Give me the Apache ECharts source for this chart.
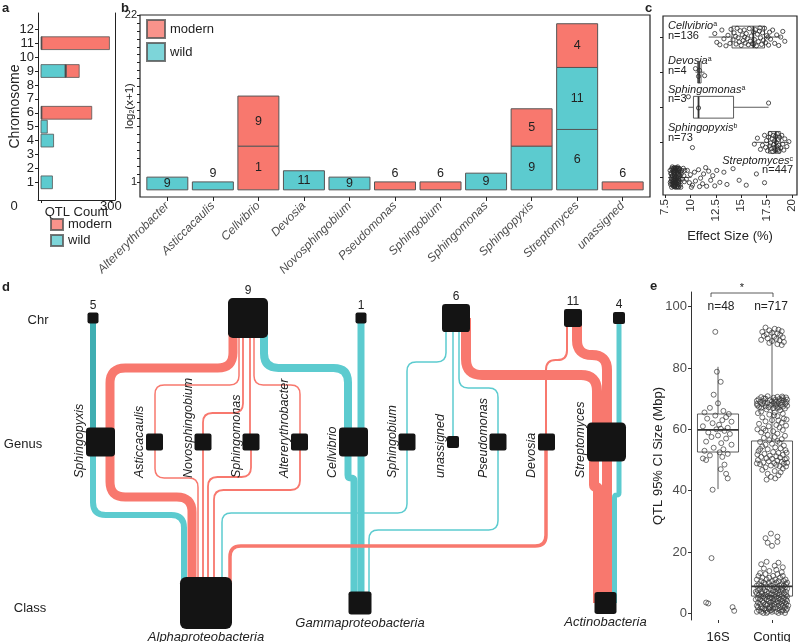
<!DOCTYPE html>
<html><head><meta charset="utf-8">
<script src="https://cdn.jsdelivr.net/npm/echarts@6.0.0/dist/echarts.min.js"></script>
<style>html,body{margin:0;padding:0;background:#fff;}#chart{width:799px;height:642px;}</style>
</head><body><div id="chart"></div>
<script>
// ================= DATA =================
// panel a : QTL count per chromosome
const aChromosomes = [1, 4, 5, 6, 9, 11];
const aWild   = [49, 54, 27, 0, 104, 0];
const aOther  = [0, 0, 0, 4, 5, 4];
const aModern = [0, 0, 0, 214, 55, 290];
const aYTicks = [1,2,3,4,5,6,7,8,9,10,11,12];
const aXTicks = [0, 300];

// panel b : stacked log2(x+1) per genus, segments bottom->top [chromosome, type, height]
const bGenera = ['Altererythrobacter','Asticcacaulis','Cellvibrio','Devosia','Novosphingobium','Pseudomonas','Sphingobium','Sphingomonas','Sphingopyxis','Streptomyces','unassigned'];
const bSegments = [
  [[9,'wild',1.6]],
  [[9,'wild',1.0]],
  [[1,'modern',5.5],[9,'modern',6.3]],
  [[11,'wild',2.4]],
  [[9,'wild',1.6]],
  [[6,'modern',1.0]],
  [[6,'modern',1.0]],
  [[9,'wild',2.1]],
  [[9,'wild',5.5],[5,'modern',4.7]],
  [[6,'wild',7.6],[11,'wild',7.8],[4,'modern',5.5]],
  [[6,'modern',1.0]]
];
const bYTicks = [1,2,3,4,5,6,7,8,9,10,11,12,13,14,15,16,17,18,19,20,21,22];
const bYLabels = [1, 22];

// panel c : effect size per genus
const cGenera = ['Cellvibrio','Devosia','Sphingomonas','Sphingopyxis','Streptomyces'];
const cLetters = ['a','a','a','b','c'];
const cN = [136, 4, 3, 73, 447];
const cBoxes = [[11.8,14.1,16.2,17.3,18.9],[10.5,10.72,10.85,11.05,11.4],[9.8,10.3,10.8,14.25,17.7],[16.3,17.7,18.4,18.85,19.7],[7.8,8.3,8.6,9.0,10.1]];
const cXTicks = [7.5, 10, 12.5, 15, 17.5, 20];
const cPoints = [
 [[12.4,-0.1],[12.6,0.15],[12.9,0.22],[13.1,-0.2],[13.3,0.05],[13.5,0.25],[13.7,-0.05],[13.9,0.18],[14.0,-0.22],[14.2,0.08],[14.3,-0.12],[14.5,0.2],[14.6,-0.25],[14.7,0.02],[14.8,0.14],[14.9,-0.18],[15.0,0.24],[15.1,-0.06],[15.2,0.1],[15.3,-0.2],[15.4,0.17],[15.5,-0.1],[15.6,0.04],[15.7,0.22],[15.8,-0.24],[15.9,0.12],[16.0,-0.03],[16.1,0.19],[16.2,-0.15],[16.3,0.07],[16.4,-0.21],[16.5,0.25],[16.6,-0.08],[16.7,0.13],[16.8,-0.17],[16.9,0.02],[17.0,0.21],[17.1,-0.12],[17.2,0.09],[17.3,-0.25],[17.4,0.16],[17.5,-0.04],[17.7,0.23],[17.8,-0.14],[17.9,0.06],[18.1,-0.2],[18.3,0.18],[18.5,-0.06],[18.7,0.24],[18.9,0.0],[19.1,-0.16],[19.3,0.12],[15.35,0.0],[16.25,0.2],[16.85,-0.26],[17.65,0.0],[14.45,-0.02]],
 [[10.5,-0.1],[10.8,0.12],[10.9,-0.05],[11.4,0.1]],
 [[9.8,-0.3],[10.8,0.02],[17.7,-0.12]],
 [[16.3,0.05],[16.6,-0.12],[16.9,0.2],[17.1,0.08],[17.3,-0.2],[17.4,0.14],[17.5,-0.05],[17.6,0.24],[17.7,-0.15],[17.8,0.1],[17.85,-0.25],[17.9,0.02],[18.0,0.18],[18.05,-0.1],[18.1,0.26],[18.15,-0.2],[18.2,0.06],[18.25,0.15],[18.3,-0.05],[18.35,0.22],[18.4,-0.18],[18.45,0.0],[18.5,0.12],[18.55,-0.24],[18.6,0.2],[18.65,-0.08],[18.7,0.08],[18.75,0.25],[18.8,-0.14],[18.9,0.16],[19.0,-0.2],[19.1,0.05],[19.2,0.22],[19.3,-0.1],[19.5,0.12],[19.7,-0.02],[10.2,0.15]],
 [[8.0,-0.2],[8.1,0.1],[8.2,-0.05],[8.3,0.25],[8.4,-0.28],[8.5,0.0],[8.6,0.18],[8.7,-0.15],[8.8,0.08],[8.9,-0.22],[9.0,0.22],[9.1,-0.1],[9.2,0.05],[9.3,-0.26],[8.05,0.2],[8.15,-0.25],[8.25,0.12],[8.35,-0.12],[8.45,0.27],[8.55,-0.18],[8.65,0.05],[8.75,-0.3],[8.85,0.15],[8.95,-0.05],[9.05,0.28],[9.15,-0.2],[8.1,-0.1],[8.2,0.2],[8.3,-0.18],[8.4,0.08],[8.5,-0.25],[8.6,-0.02],[8.7,0.25],[8.8,-0.1],[8.9,0.1],[9.0,-0.15],[8.12,0.02],[8.22,-0.3],[8.32,0.06],[8.42,-0.08],[8.52,0.16],[8.62,-0.28],[8.72,0.1],[8.82,0.28],[8.92,-0.25],[8.3,0.15],[8.5,0.22],[8.7,-0.22],[8.4,-0.15],[8.6,0.28],[8.25,-0.05],[8.55,0.08],[8.15,0.28],[8.45,-0.2],[8.65,-0.12],[8.35,0.2],[8.75,0.0],[9.4,0.12],[9.35,-0.05],[9.45,-0.2],
  [8.08,-0.12],[8.18,0.06],[8.28,-0.22],[8.38,0.24],[8.48,-0.04],[8.58,0.12],[8.68,-0.26],[8.78,0.2],[8.88,-0.08],[8.98,0.04],[8.02,0.14],[8.44,0.02],[8.64,0.15],[8.34,-0.26],[8.84,-0.18],
  [9.6,0.05],[9.7,-0.2],[9.9,0.15],[10.0,-0.08],[10.2,0.22],[10.4,-0.15],[10.5,0.1],[10.8,-0.22],[11.0,0.02],[11.2,0.18],[11.3,-0.1],[11.6,0.25],[11.8,-0.18],[12.0,0.08],[12.2,-0.05],[12.4,0.24],[12.6,-0.2],[12.9,0.14],[13.3,-0.15],[13.6,0.2],[14.2,-0.25],[14.8,0.08],[15.5,0.22],[16.5,-0.1],[17.3,0.15],[10.1,0.28],[10.9,0.26],[11.5,-0.28]]
];

// panel d : alluvial nodes and flows
const dChr = ['5','9','1','6','11','4'];
const dGenus = ['Sphingopyxis','Asticcacaulis','Novosphingobium','Sphingomonas','Altererythrobacter','Cellvibrio','Sphingobium','unassigned','Pseudomonas','Devosia','Streptomyces'];
const dClass = ['Alphaproteobacteria','Gammaproteobacteria','Actinobacteria'];
// [from, to, type, weight]
const dFlows = [
 ['5','Sphingopyxis','wild',6], ['9','Sphingopyxis','modern',9], ['9','Asticcacaulis','modern',1.5], ['9','Novosphingobium','modern',1.8],
 ['9','Sphingomonas','modern',1.8], ['9','Altererythrobacter','modern',1.5], ['9','Cellvibrio','wild',8], ['1','Cellvibrio','wild',7],
 ['6','Sphingobium','wild',1.5], ['6','unassigned','wild',1.5], ['6','Pseudomonas','wild',1.5], ['6','Streptomyces','modern',10],
 ['11','Devosia','modern',2], ['11','Streptomyces','modern',10], ['4','Streptomyces','wild',5],
 ['Sphingopyxis','Alphaproteobacteria','wild',6], ['Sphingopyxis','Alphaproteobacteria','modern',9], ['Asticcacaulis','Alphaproteobacteria','modern',1.5],
 ['Novosphingobium','Alphaproteobacteria','modern',1.8], ['Sphingomonas','Alphaproteobacteria','modern',1.8], ['Altererythrobacter','Alphaproteobacteria','modern',1.8],
 ['Sphingobium','Alphaproteobacteria','wild',1.5], ['Cellvibrio','Gammaproteobacteria','wild',7], ['Cellvibrio','Gammaproteobacteria','wild',7],
 ['Pseudomonas','Gammaproteobacteria','wild',1.5], ['Devosia','Alphaproteobacteria','modern',3.5],
 ['Streptomyces','Actinobacteria','modern',10], ['Streptomyces','Actinobacteria','modern',10], ['Streptomyces','Actinobacteria','wild',5]
];

// panel e : CI size
const eGroups = ['16S','Contig'];
const eN = [48, 717];
const eBoxes = [[40.5,52.6,59.8,65.0,80.4],[0.1,5.6,8.8,56.2,92.2]];
const eYTicks = [0,20,40,60,80,100];
const e16S = [[91.8,-0.05],[78.8,-0.02],[75.5,0.05],[71.3,-0.08],[68.5,0.0],[67.0,-0.15],[66.0,0.1],[65.5,-0.25],[65.0,0.2],[64.5,-0.05],[64.0,0.15],[63.5,-0.2],[63.0,0.08],[62.5,0.25],[62.0,-0.1],[61.5,0.02],[61.0,-0.28],[60.5,0.18],[60.0,-0.03],[59.5,0.12],[59.0,-0.18],[58.5,0.22],[58.0,0.0],[57.5,-0.12],[57.0,0.15],[56.0,-0.22],[55.5,0.06],[55.0,0.25],[54.0,-0.08],[53.5,0.1],[53.0,-0.25],[52.5,0.03],[52.0,0.18],[51.5,-0.15],[51.0,0.08],[50.5,-0.28],[50.0,-0.22],[48.5,0.12],[47.0,0.05],[45.5,0.15],[44.0,0.18],[40.3,-0.1],[18.0,-0.12],[3.5,-0.22],[3.2,-0.18],[2.0,0.27],[0.8,0.3],[60.2,0.05]];
const eContigHigh = [[93.2,-.12],[92.8,.05],[92.5,.12],[92.3,-.05],[92.0,.18],[91.8,-.18],[91.5,.0],[91.3,.1],[91.0,-.1],[90.8,.15],[90.5,-.15],[90.2,.04],[90.0,.2],[89.7,-.08],[89.5,.08],[89.2,-.2],[89.0,.14],[88.8,.0],[88.5,.22],[88.2,-.05],[87.8,.1],[87.5,.18],
 [70.8,-.08],[70.6,.1],[70.5,-.2],[70.3,.03],[70.2,.2],[70.0,-.12],[69.9,.14],[69.8,-.25],[69.6,.06],[69.5,-.04],[69.4,.22],[69.2,-.16],[69.1,.0],[69.0,.12],[68.9,-.22],[68.7,.18],[68.6,-.08],[68.5,.04],[68.4,.25],[68.2,-.18],[68.1,.09],[68.0,-.02],[67.9,.16],[67.8,-.27],[67.6,.07],[67.5,-.12],[67.4,.2],[67.2,-.06],[67.1,.13],[67.0,-.2],[66.9,.02],[66.8,.24],[70.4,.26],[69.7,.28],[68.8,.27],[68.3,-.28],[67.7,.28],[69.3,-.28],[70.1,-.15],[68.95,.07],[67.3,-.24],[69.55,.17],[68.45,-.13],[70.7,.19],[67.05,.1],
 [66.5,-.1],[66.2,.15],[65.8,-.2],[65.5,.05],[65.1,.2],[64.8,-.05],[64.3,.1],[63.9,-.18],[63.5,.22],[63.0,.0],[62.6,-.12],[62.2,.18],[61.8,-.24],[61.4,.08],[61.0,-.06],[60.6,.14],[60.2,-.16],[59.8,.2],[59.4,.02],[59.0,-.2],[58.6,.1],[58.2,-.08],[57.9,.24],[65.3,-.26],[63.2,.27],[61.2,.26],[60.0,-.27],[64.6,.04],[62.9,.12],[59.6,-.12],
 [57.5,.05],[57.2,-.15],[56.8,.18],[56.5,-.05],[56.2,.1],[55.9,-.22],[55.6,.14],[55.3,.0],[55.0,-.12],[54.7,.22],[54.4,-.18],[54.1,.06],[53.8,.16],[53.5,-.08],[53.2,.25],[52.9,-.25],[52.6,.02],[52.3,.12],[52.0,-.14],[51.7,.2],[51.4,-.04],[51.2,.08],[51.0,-.2],[50.8,.15],[50.6,-.1],[50.4,.0],[50.2,.24],[50.0,-.26],[49.8,.1],[49.6,-.06],[49.4,.18],[49.2,-.16],[49.0,.04],[48.8,.22],[48.6,-.22],[48.4,.08],[48.2,-.02],[48.0,.14],[47.6,-.12],[47.2,.2],[46.8,-.18],[46.4,.05],[46.0,.16],[45.5,-.08],[45.0,.12],[44.5,-.02],[44.0,.06],[43.6,-.1],[50.5,.27],[49.1,.28],[51.8,-.27],[48.9,-.28],[52.4,.27],[47.9,.26],[53.6,-.22],
 [26.0,-.02],[25.0,.1],[24.5,-.12],[23.0,-.08],[22.0,.0],[23.3,.1],
 [16.8,-.1],[16.5,.12],[16.0,-.2],[15.5,.05],[15.0,.2],[14.6,-.15],[14.2,.08],[13.8,-.05],[13.4,.18],[13.1,-.22]];
// dense low cluster: [value, jitters]
const eContigLow = [[12.8,[-.12,.1]],[12.2,[.2,-.25,.02]],[11.6,[-.05,.15,-.18]],[11.0,[.25,-.1,.06,-.28]],[10.5,[.12,-.2,.0,.22]],[10.0,[-.15,.08,.28,-.06]],
 [9.5,[.18,-.24,.03,-.12,.26]],[9.0,[-.02,.14,-.2,.22,-.28]],[8.5,[.1,-.08,.24,-.16,.04]],[8.0,[-.22,.18,-.04,.28,.08]],[7.5,[.02,-.14,.2,-.26,.12]],
 [7.0,[-.1,.26,.06,-.2,.16,-.3]],[6.5,[.22,-.06,-.18,.1,-.28,.0]],[6.0,[-.24,.14,.04,-.12,.26,-.02]],[5.5,[.08,-.2,.18,-.08,.28,-.16]],[5.0,[-.04,.22,-.26,.12,.0,-.14]],
 [4.5,[.16,-.1,.26,-.22,.06,-.3]],[4.0,[-.18,.02,.2,-.06,.28,.1]],[3.5,[.24,-.16,-.02,.14,-.26,.08]],[3.0,[-.08,.18,-.22,.04,.26,-.12]],[2.5,[.12,-.28,.0,.2,-.1,.3]],
 [2.0,[-.2,.06,.24,-.04,.16,-.26]],[1.5,[.02,-.14,.28,-.18,.1,-.06]],[1.0,[-.24,.2,-.02,.14,-.12,.26]],[0.5,[.08,-.2,.18,-.08,.0,-.28]],[0.1,[-.1,.12,.24,-.16]]];

// ================= LAYOUT / STYLE =================
const RED = '#F8786E', CYAN = '#5CCBCF', TEAL = '#3FAEB2', OTHER = '#1c1c1c', NODE = '#141414';
const FONT = '"Liberation Sans", Arial, Helvetica, sans-serif';
const dRowY = {chr: 318, genus: 442, cls: 603};
const dNodeX = {'5':93,'9':248,'1':361,'6':456,'11':573,'4':619,
  'Sphingopyxis':100.5,'Asticcacaulis':154.5,'Novosphingobium':203,'Sphingomonas':251,'Altererythrobacter':299.5,'Cellvibrio':353.5,'Sphingobium':407,'unassigned':453,'Pseudomonas':498,'Devosia':546.5,'Streptomyces':606.5,
  'Alphaproteobacteria':206,'Gammaproteobacteria':360,'Actinobacteria':605.5};
const dNodeSize = {'5':11,'9':40,'1':11,'6':28,'11':18,'4':12,
  'Sphingopyxis':29,'Asticcacaulis':17,'Novosphingobium':17,'Sphingomonas':17,'Altererythrobacter':17,'Cellvibrio':29,'Sphingobium':17,'unassigned':12,'Pseudomonas':17,'Devosia':17,'Streptomyces':39,
  'Alphaproteobacteria':52,'Gammaproteobacteria':23,'Actinobacteria':22};
// [x at source, x at target, routing level]
const dRoutes = [[93,93,null],[233,110,368],[239,155,385],[243,203,413],[250,250,null],[254,300,385],[264,348,368],[361,361,null],
 [446,407,362],[453,453,null],[459,498,388],[466,597,375],[567,546,360],[577,607,355],[619,619,null],
 [93,184,515],[110,192,497],[155,198,478],[203,203,null],[251,208,477],[300,214,490],[407,222,513],[348,354,478],[361,361,null],
 [498,369,530],[546,230,546],[594,598,487],[607,607,null],[619,614.5,495]];
const dShade = {0: TEAL};

// ================= BUILD ITEMS =================
const aItems = [];
aChromosomes.forEach((c, i) => {
  let s = 0;
  [[aWild[i],1],[aOther[i],2],[aModern[i],0]].forEach(([v,t]) => { if (v > 0) { aItems.push([c, s, s+v, t]); s += v; } });
});
const bItems = [];
bSegments.forEach((segs, g) => { let s = 0; segs.forEach(([chr,type,h]) => { bItems.push([g, s, s+h, type==='modern'?0:1, chr]); s += h; }); });
const cScatter = [];
cPoints.forEach((pts, r) => pts.forEach(([v,j]) => cScatter.push([v, r + j])));
const cBoxItems = cBoxes.map((b, r) => [r].concat(b));
const eScatter = [];
e16S.forEach(([v,j]) => eScatter.push([0 + j, v]));
eContigHigh.forEach(([v,j]) => eScatter.push([1 + j, v]));
eContigLow.forEach(([v,js]) => js.forEach(j => eScatter.push([1 + j, v])));
const eBoxItems = eBoxes.map((b, g) => [g].concat(b));
const dAll = dChr.map(n=>[n,'chr']).concat(dGenus.map(n=>[n,'genus']), dClass.map(n=>[n,'cls']));
const dRowOf = {}; dAll.forEach(([n,r]) => dRowOf[n] = r);

const COLORS = [RED, CYAN, OTHER];
const axisLine = {show: true, onZero: false, lineStyle: {color: '#222', width: 1}};
const noLine = {show: false, onZero: false};
const noSplit = {show: false};

function T(x, y, text, o) {
  return {type:'text', x, y, silent:true, style:Object.assign({text, fill:'#222', fontSize:13, fontFamily:FONT, align:'left', verticalAlign:'middle'}, o||{})};
}
const supRich = {i:{fontStyle:'italic', fontSize:11, fontFamily:FONT, fill:'#222'}, s:{fontSize:7, fontFamily:FONT, fill:'#222', verticalAlign:'top'}};

function boxRender(horizontal, half) {
  return function (params, api) {
    const k = api.value(0), mn = api.value(1), q1 = api.value(2), md = api.value(3), q3 = api.value(4), mx = api.value(5);
    const P = horizontal ? (v, o) => api.coord([v, k + o]) : (v, o) => api.coord([k + o, v]);
    const a = P(q1, -half), b = P(q3, half);
    const x = Math.min(a[0], b[0]), y = Math.min(a[1], b[1]), w = Math.abs(a[0]-b[0]), h = Math.abs(a[1]-b[1]);
    const ln = (p, q, lw) => ({type:'line', shape:{x1:p[0], y1:p[1], x2:q[0], y2:q[1]}, style:{stroke:'#333', lineWidth:lw||0.8}});
    return {type:'group', children:[
      ln(P(mn,0), P(q1,0)), ln(P(q3,0), P(mx,0)),
      {type:'rect', shape:{x, y, width:w, height:h}, style:{stroke:'#333', lineWidth:0.8, fill:'#fff'}},
      ln(P(md,-half), P(md,half), 1.8)
    ]};
  };
}

const option = {
  animation: false,
  textStyle: {fontFamily: FONT},
  grid: [
    {left:38, top:13, width:77, height:187, outerBoundsMode:'none'},
    {left:140, top:15, width:510, height:182, show:true, borderColor:'#222', borderWidth:1.2, outerBoundsMode:'none'},
    {left:663, top:16, width:134, height:179, show:true, borderColor:'#222', borderWidth:1.2, outerBoundsMode:'none'},
    {left:0, top:0, width:799, height:642, outerBoundsMode:'none'},
    {left:691, top:292, width:108, height:328, outerBoundsMode:'none'}
  ],
  xAxis: [
    {gridIndex:0, type:'value', min:-13, max:318, axisLine, splitLine:noSplit,
      axisTick:{customValues:aXTicks, length:3, lineStyle:{color:'#222'}},
      axisLabel:{customValues:aXTicks, margin:0, fontSize:13, color:'#222',
        formatter: v => v === 0 ? '{z|0}' : '{n|' + v + '}', rich:{z:{fontSize:13, padding:[0,54,0,0]}, n:{fontSize:13}}},
      name:'QTL Count', nameLocation:'middle', nameGap:6, nameMoveOverlap:false, nameTextStyle:{fontSize:13, color:'#222'}},
    {gridIndex:1, type:'value', min:-0.6, max:10.6, axisLine:noLine, splitLine:noSplit,
      axisTick:{customValues:bGenera.map((g,i)=>i), length:4, lineStyle:{color:'#222'}},
      axisLabel:{customValues:bGenera.map((g,i)=>i), formatter: v => bGenera[v], rotate:45, margin:7, fontSize:12, fontStyle:'italic', color:'#4d4d4d'}},
    {gridIndex:2, type:'value', min:7.3, max:20.5, axisLine:noLine, splitLine:noSplit,
      axisTick:{customValues:cXTicks, length:3, lineStyle:{color:'#222'}},
      axisLabel:{customValues:cXTicks, rotate:90, margin:4, fontSize:11.5, color:'#333'},
      name:'Effect Size (%)', nameLocation:'middle', nameGap:35, nameMoveOverlap:false, nameTextStyle:{fontSize:13, color:'#222'}},
    {gridIndex:3, type:'value', min:0, max:799, show:false},
    {gridIndex:4, type:'value', min:-0.5, max:1.5, axisLine:noLine, splitLine:noSplit,
      axisTick:{customValues:[0,1], length:3, lineStyle:{color:'#333'}},
      axisLabel:{customValues:[0,1], formatter: v => eGroups[v], margin:11, fontSize:13, color:'#222'}}
  ],
  yAxis: [
    {gridIndex:0, type:'value', min:-0.27, max:13.17, axisLine, splitLine:noSplit,
      axisTick:{customValues:aYTicks, length:3, lineStyle:{color:'#222'}},
      axisLabel:{customValues:aYTicks, margin:4, fontSize:13, color:'#222'},
      name:'Chromosome', nameLocation:'middle', nameGap:16, nameRotate:90, nameMoveOverlap:false, nameTextStyle:{fontSize:14, color:'#222'}},
    {gridIndex:1, type:'value', min:-0.9, max:22, axisLine:noLine, splitLine:noSplit,
      axisTick:{customValues:bYTicks, length:3, lineStyle:{color:'#222'}},
      axisLabel:{customValues:bYLabels, margin:3, fontSize:11, color:'#222'},
      name:'{a|log}{s|2}{a|(x+1)}', nameLocation:'middle', nameGap:4, nameRotate:90, nameMoveOverlap:false,
      nameTextStyle:{rich:{a:{fontSize:11.5, color:'#222'}, s:{fontSize:7, color:'#222', verticalAlign:'bottom', padding:[5,0,0,0]}}}},
    {gridIndex:2, type:'value', inverse:true, min:-0.6, max:4.5, axisLine:noLine, splitLine:noSplit,
      axisTick:{customValues:[0,1,2,3,4], length:3, lineStyle:{color:'#222'}}, axisLabel:{show:false}},
    {gridIndex:3, type:'value', min:0, max:642, inverse:true, show:false},
    {gridIndex:4, type:'value', min:-2.19, max:104.8, axisLine:{show:true, onZero:false, lineStyle:{color:'#333', width:1}}, splitLine:noSplit,
      axisTick:{customValues:eYTicks, length:3, lineStyle:{color:'#333'}},
      axisLabel:{customValues:eYTicks, margin:4, fontSize:13, color:'#4d4d4d'},
      name:'QTL 95% CI Size (Mbp)', nameLocation:'middle', nameGap:26, nameRotate:90, nameMoveOverlap:false, nameTextStyle:{fontSize:13, color:'#222'}},
    {gridIndex:0, type:'value', position:'right', min:-0.27, max:13.17, axisLine, axisTick:{show:false}, axisLabel:{show:false}, splitLine:noSplit}
  ],
  legend: [
    {data:['modern','wild'], orient:'vertical', left:146, top:19, padding:0, itemWidth:18, itemHeight:18, itemGap:3, icon:'rect', textStyle:{fontSize:13, color:'#222'}, selectedMode:false},
    {data:['modern','wild'], orient:'vertical', left:50, top:218, padding:0, itemWidth:12, itemHeight:11, itemGap:3, icon:'rect', textStyle:{fontSize:13, color:'#222'}, selectedMode:false}
  ],
  series: [
    {name:'modern', type:'scatter', xAxisIndex:1, yAxisIndex:1, data:[], itemStyle:{color:RED, borderColor:'#555', borderWidth:1}},
    {name:'wild', type:'scatter', xAxisIndex:1, yAxisIndex:1, data:[], itemStyle:{color:CYAN, borderColor:'#555', borderWidth:1}},
    {type:'custom', xAxisIndex:0, yAxisIndex:0, data:aItems, encode:{x:[1,2], y:0}, silent:true,
      renderItem:(params, api) => {
        const c = api.value(0), s = api.value(1), e = api.value(2), t = api.value(3);
        const p1 = api.coord([s, c + 0.46]), p2 = api.coord([e, c - 0.46]);
        return {type:'rect', shape:{x:p1[0], y:p1[1], width:p2[0]-p1[0], height:p2[1]-p1[1]}, style:{fill:COLORS[t], stroke:'#555', lineWidth:0.8}};
      }},
    {type:'custom', xAxisIndex:1, yAxisIndex:1, data:bItems, encode:{x:0, y:[1,2]}, silent:true,
      renderItem:(params, api) => {
        const g = api.value(0), s = api.value(1), e = api.value(2), t = api.value(3), chr = api.value(4);
        const p1 = api.coord([g - 0.45, e]), p2 = api.coord([g + 0.45, s]);
        const h = p2[1] - p1[1], inside = (e - s) >= 1.3, cx = (p1[0] + p2[0]) / 2;
        return {type:'group', children:[
          {type:'rect', shape:{x:p1[0], y:p1[1], width:p2[0]-p1[0], height:h}, style:{fill:COLORS[t], stroke:'#555', lineWidth:1}},
          {type:'text', x:cx, y: inside ? p1[1] + h/2 : p1[1] - 2, style:{text:String(chr), fill:'#222', fontSize:12.5, fontFamily:FONT, align:'center', verticalAlign: inside ? 'middle' : 'bottom'}}
        ]};
      }},
    {type:'custom', xAxisIndex:2, yAxisIndex:2, data:cBoxItems, encode:{x:[1,5], y:0}, silent:true, renderItem: boxRender(true, 0.31)},
    {type:'scatter', xAxisIndex:2, yAxisIndex:2, data:cScatter, symbol:'circle', symbolSize:4.2, silent:true,
      itemStyle:{color:'rgba(255,255,255,0)', borderColor:'#2a2a2a', borderWidth:0.8, opacity:1}},
    {type:'custom', xAxisIndex:3, yAxisIndex:3, data:dFlows.map((f,i)=>[i,0]), silent:true,
      renderItem:(params, api) => {
        const i = api.value(0), f = dFlows[i], rt = dRoutes[i];
        const sy = dRowY[dRowOf[f[0]]], ty = dRowY[dRowOf[f[1]]];
        const a = api.coord([rt[0], sy]), d = api.coord([rt[1], ty]);
        let p;
        if (rt[2] == null) { p = `M${a[0]} ${a[1]} L${d[0]} ${d[1]}`; }
        else {
          const b = api.coord([rt[0], rt[2]]), c = api.coord([rt[1], rt[2]]);
          const dir = c[0] > b[0] ? 1 : -1;
          const r = Math.min(8 + f[3] * 0.8, Math.abs(c[0]-b[0]) / 2, b[1]-a[1], d[1]-c[1]);
          p = `M${a[0]} ${a[1]} L${b[0]} ${b[1]-r} Q${b[0]} ${b[1]} ${b[0]+dir*r} ${b[1]} L${c[0]-dir*r} ${c[1]} Q${c[0]} ${c[1]} ${c[0]} ${c[1]+r} L${d[0]} ${d[1]}`;
        }
        const col = dShade[i] || (f[2] === 'modern' ? RED : CYAN);
        return {type:'path', shape:{pathData:p}, style:{fill:'none', stroke:col, lineWidth:f[3]}};
      }},
    {type:'custom', xAxisIndex:3, yAxisIndex:3, data:dAll.map((n,i)=>[i,0]), silent:true,
      renderItem:(params, api) => {
        const [name, row] = dAll[api.value(0)];
        const sz = dNodeSize[name];
        const c = api.coord([dNodeX[name], dRowY[row]]);
        const x0 = c[0] - sz/2, y0 = c[1] - sz/2;
        const kids = [{type:'rect', shape:{x:x0, y:y0, width:sz, height:sz, r:Math.max(2, sz*0.12)}, style:{fill:NODE}}];
        if (row === 'chr') kids.push({type:'text', x:c[0], y:y0 - 1, style:{text:name, fill:'#222', fontSize:12, fontFamily:FONT, align:'center', verticalAlign:'bottom'}});
        if (row === 'genus') kids.push({type:'text', x:x0 - 6, y:api.coord([0, 478])[1], rotation:Math.PI/2, style:{text:name, fill:'#222', fontSize:12.5, fontStyle:'italic', fontFamily:FONT, align:'left', verticalAlign:'middle'}});
        if (row === 'cls') kids.push({type:'text', x:c[0], y:y0 + sz + 2, style:{text:name, fill:'#222', fontSize:13, fontStyle:'italic', fontFamily:FONT, align:'center', verticalAlign:'top'}});
        return {type:'group', children:kids};
      }},
    {type:'custom', xAxisIndex:4, yAxisIndex:4, data:eBoxItems, encode:{x:0, y:[1,5]}, silent:true, renderItem: boxRender(false, 0.38)},
    {type:'scatter', xAxisIndex:4, yAxisIndex:4, data:eScatter, symbol:'circle', symbolSize:5, silent:true,
      itemStyle:{color:'rgba(255,255,255,0)', borderColor:'#333', borderWidth:0.7, opacity:1}}
  ],
  graphic: [
    T(2, 8, 'a', {fontWeight:'bold', fontSize:13}),
    T(121, 8, 'b', {fontWeight:'bold', fontSize:13}),
    T(645, 8, 'c', {fontWeight:'bold', fontSize:13}),
    T(2, 287, 'd', {fontWeight:'bold', fontSize:13}),
    T(650, 286, 'e', {fontWeight:'bold', fontSize:13}),
    T(668, 26, '{i|Cellvibrio}{s|' + cLetters[0] + '}', {rich:supRich}),
    T(668, 36, 'n=' + cN[0], {fontSize:11}),
    T(668, 61, '{i|Devosia}{s|' + cLetters[1] + '}', {rich:supRich}),
    T(668, 71, 'n=' + cN[1], {fontSize:11}),
    T(668, 90, '{i|Sphingomonas}{s|' + cLetters[2] + '}', {rich:supRich}),
    T(668, 99, 'n=' + cN[2], {fontSize:11}),
    T(668, 128, '{i|Sphingopyxis}{s|' + cLetters[3] + '}', {rich:supRich}),
    T(668, 138, 'n=' + cN[3], {fontSize:11}),
    T(793, 161, '{i|Streptomyces}{s|' + cLetters[4] + '}', {rich:supRich, align:'right'}),
    T(793, 170, 'n=' + cN[4], {fontSize:11, align:'right'}),
    T(38, 320, 'Chr', {align:'center'}),
    T(23, 444, 'Genus', {align:'center'}),
    T(30, 608, 'Class', {align:'center'}),
    T(721, 307, 'n=' + eN[0], {align:'center', fontSize:12}),
    T(771, 307, 'n=' + eN[1], {align:'center', fontSize:12}),
    {type:'polyline', silent:true, shape:{points:[[711,297],[711,293],[773,293],[773,297]]}, style:{stroke:'#333', lineWidth:0.8, fill:'none'}},
    T(742, 288, '*', {align:'center', fontSize:11})
  ]
};
const chart = echarts.init(document.getElementById('chart'), null, {renderer:'canvas'});
chart.setOption(option);
</script>
</body></html>
